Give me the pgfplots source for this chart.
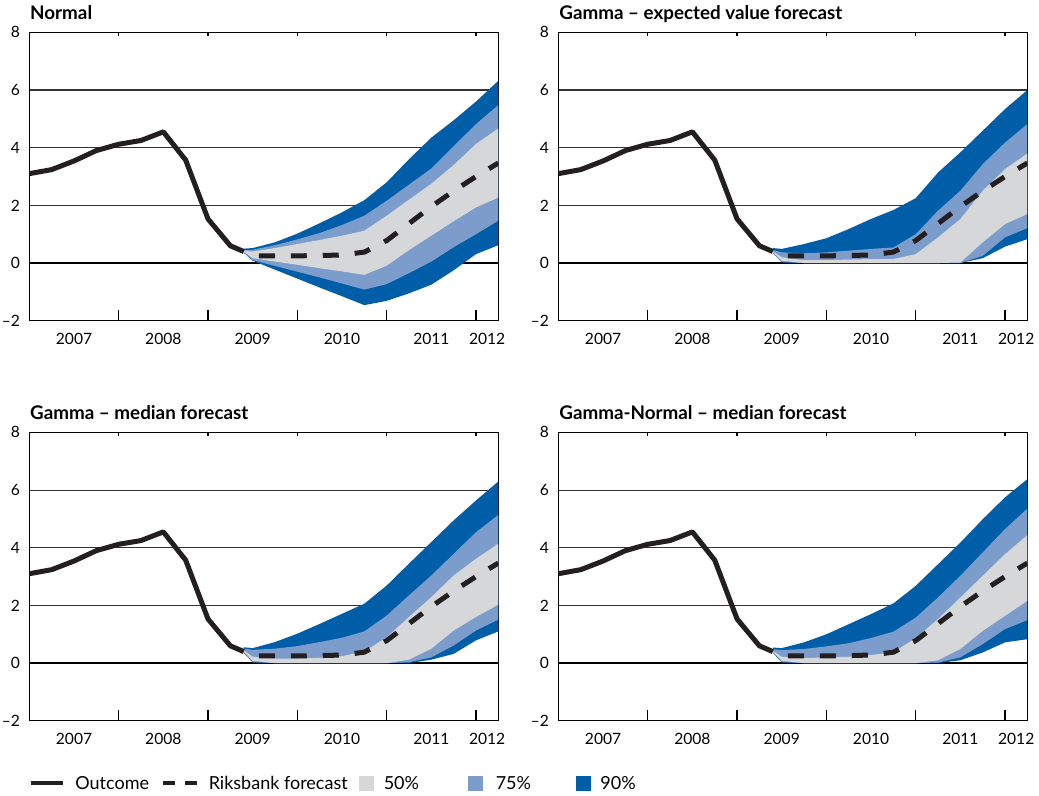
\documentclass[border=0pt]{standalone}
\usepackage{fontspec}
\setmainfont{Lato}
\usepackage{pgfplots}
\pgfplotsset{compat=1.18}
\usepackage{pgfplotstable}
\usepgfplotslibrary{fillbetween}

\definecolor{rbdark}{RGB}{0,94,168}
\definecolor{rblight}{RGB}{124,157,204}
\definecolor{rbgrey}{RGB}{214,215,217}
\definecolor{rbblack}{RGB}{35,31,32}

% Repo rate outcome
\pgfplotstableread{
x y
2007.00 3.10
2007.25 3.24
2007.50 3.54
2007.75 3.90
2008.00 4.12
2008.25 4.25
2008.50 4.55
2008.75 3.57
2009.00 1.53
2009.25 0.60
2009.40 0.40
}\outcome

% Riksbank forecast
\pgfplotstableread{
x y
2009.40 0.40
2009.50 0.25
2009.75 0.25
2010.00 0.25
2010.25 0.26
2010.50 0.28
2010.75 0.38
2011.00 0.78
2011.25 1.37
2011.50 1.96
2011.75 2.50
2012.00 3.00
2012.25 3.47
}\forecast

% Uncertainty bands: Normal
\pgfplotstableread{
x l90 l75 l50 u50 u75 u90
2009.40 0.36 0.38 0.39 0.42 0.45 0.50
2009.50 0.08 0.10 0.17 0.40 0.46 0.52
2009.75 -0.23 -0.10 0.05 0.52 0.62 0.72
2010.00 -0.54 -0.30 -0.06 0.66 0.82 1.02
2010.25 -0.85 -0.50 -0.18 0.80 1.04 1.38
2010.50 -1.15 -0.71 -0.29 0.95 1.32 1.76
2010.75 -1.46 -0.92 -0.41 1.12 1.64 2.18
2011.00 -1.31 -0.73 -0.09 1.64 2.16 2.80
2011.25 -1.05 -0.35 0.45 2.20 2.72 3.60
2011.50 -0.75 0.05 0.95 2.75 3.28 4.35
2011.75 -0.25 0.55 1.45 3.40 4.05 4.95
2012.00 0.31 1.00 1.93 4.13 4.82 5.60
2012.25 0.62 1.47 2.27 4.67 5.48 6.32
}\bandNormal

% Uncertainty bands: Gamma, expected value
\pgfplotstableread{
x l90 l75 l50 u50 u75 u90
2009.40 0.36 0.36 0.38 0.40 0.45 0.52
2009.50 0.02 0.04 0.08 0.20 0.37 0.49
2009.75 0.00 0.00 0.00 0.10 0.34 0.66
2010.00 0.00 0.00 0.00 0.10 0.37 0.86
2010.25 0.00 0.00 0.00 0.12 0.43 1.18
2010.50 0.00 0.00 0.00 0.14 0.49 1.53
2010.75 0.00 0.00 0.00 0.14 0.54 1.84
2011.00 0.00 0.00 0.00 0.31 1.00 2.25
2011.25 0.00 0.00 0.00 0.89 1.82 3.14
2011.50 0.00 0.00 0.02 1.53 2.51 3.84
2011.75 0.17 0.25 0.72 2.51 3.43 4.59
2012.00 0.57 0.89 1.35 3.26 4.18 5.34
2012.25 0.83 1.21 1.70 3.80 4.82 6.00
}\bandGammaEV

% Uncertainty bands: Gamma, median
\pgfplotstableread{
x l90 l75 l50 u50 u75 u90
2009.40 0.36 0.38 0.40 0.44 0.50 0.55
2009.50 0.02 0.04 0.08 0.22 0.46 0.52
2009.75 0.00 0.00 0.00 0.16 0.50 0.73
2010.00 0.00 0.00 0.00 0.16 0.59 1.02
2010.25 0.00 0.00 0.00 0.18 0.73 1.36
2010.50 0.00 0.00 0.00 0.24 0.88 1.71
2010.75 0.00 0.00 0.00 0.40 1.10 2.06
2011.00 0.00 0.00 0.00 0.90 1.65 2.69
2011.25 0.00 0.03 0.12 1.60 2.35 3.45
2011.50 0.12 0.20 0.50 2.29 3.04 4.20
2011.75 0.32 0.61 1.13 3.04 3.79 4.95
2012.00 0.79 1.13 1.60 3.62 4.54 5.64
2012.25 1.10 1.51 2.03 4.14 5.14 6.30
}\bandGammaMed

% Uncertainty bands: Gamma-Normal, median
\pgfplotstableread{
x l90 l75 l50 u50 u75 u90
2009.40 0.36 0.38 0.40 0.42 0.48 0.54
2009.50 0.02 0.04 0.08 0.22 0.45 0.52
2009.75 0.00 0.00 0.00 0.17 0.49 0.72
2010.00 0.00 0.00 0.00 0.20 0.58 1.00
2010.25 0.00 0.00 0.00 0.22 0.69 1.35
2010.50 0.00 0.00 0.00 0.28 0.87 1.70
2010.75 0.00 0.00 0.00 0.38 1.09 2.07
2011.00 0.00 0.00 0.00 0.87 1.58 2.68
2011.25 0.00 0.02 0.10 1.53 2.28 3.43
2011.50 0.10 0.20 0.49 2.28 3.03 4.18
2011.75 0.37 0.66 1.12 3.03 3.84 4.99
2012.00 0.72 1.18 1.64 3.78 4.65 5.75
2012.25 0.83 1.49 2.16 4.44 5.36 6.38
}\bandGammaNormal

\newcommand{\ticksize}{\fontsize{7.8}{9}\selectfont}
\newcommand{\legsize}{\fontsize{9}{11}\selectfont}
\newcommand{\titlesize}{\fontsize{9.4}{11}\selectfont\bfseries}

\pgfplotsset{
  fanpanel/.style={
    scale only axis, width=234.5pt, height=144.2pt,
    anchor=north west,
    xmin=2007, xmax=2012.25, ymin=-2, ymax=8,
    axis line style={line width=0.6pt, black},
    ytick={-2,0,2,4,6,8}, yticklabels={--2,0,2,4,6,8},
    ytick style={draw=none},
    yticklabel style={font=\ticksize, inner sep=0pt, xshift=-4.5pt},
    ymajorgrids, grid style={line width=0.55pt, black!80},
    extra y ticks={0}, extra y tick labels={},
    extra y tick style={major tick length=0pt, grid style={line width=1.1pt, black}},
    xtick={2008,2009,2010,2011,2012}, xticklabels={},
    xtick pos=left, xtick align=inside, major tick length=5.5pt,
    xtick style={line width=0.6pt, black},
    extra x ticks={2007.5,2008.5,2009.5,2010.5,2011.5,2012.125},
    extra x tick labels={2007,2008,2009,2010,2011,2012},
    extra x tick style={major tick length=0pt,
      xticklabel style={font=\ticksize, inner sep=0pt, anchor=north, yshift=-5.8pt}},
  },
  outcomeline/.style={rbblack, line width=2.5pt, line join=round},
  forecastline/.style={rbblack, line width=2.5pt, dash pattern=on 8pt off 8pt, dash phase=8pt},
}

\newcommand{\fanplots}[1]{%
  \addplot[draw=none, name path=u90] table[x=x, y=u90] {#1};
  \addplot[draw=none, name path=l90] table[x=x, y=l90] {#1};
  \addplot[draw=none, name path=u75] table[x=x, y=u75] {#1};
  \addplot[draw=none, name path=l75] table[x=x, y=l75] {#1};
  \addplot[draw=none, name path=u50] table[x=x, y=u50] {#1};
  \addplot[draw=none, name path=l50] table[x=x, y=l50] {#1};
  \addplot[fill=rbdark, draw=none] fill between[of=u90 and l90];
  \addplot[fill=rblight, draw=none] fill between[of=u75 and l75];
  \addplot[fill=rbgrey, draw=none] fill between[of=u50 and l50];
  \addplot[outcomeline] table[x=x, y=y] {\outcome};
  \addplot[forecastline] table[x=x, y=y] {\forecast};
  \pgfplotsinvokeforeach{2008,2009,2010,2011,2012}{%
    \draw[line width=0.6pt, black] (axis cs:##1,8) -- ++(0pt,-1.8pt);}
  \draw[line width=0.6pt, black] (rel axis cs:1,0) -- (rel axis cs:1,1);
}

\begin{document}
\begin{tikzpicture}

\begin{axis}[fanpanel, at={(14.67pt,-16.17pt)}]
  \fanplots{\bandNormal}
\end{axis}

\begin{axis}[fanpanel, at={(279.2pt,-16.17pt)}]
  \fanplots{\bandGammaEV}
\end{axis}

\begin{axis}[fanpanel, at={(14.67pt,-216.2pt)}]
  \fanplots{\bandGammaMed}
\end{axis}

\begin{axis}[fanpanel, at={(279.2pt,-216.2pt)}]
  \fanplots{\bandGammaNormal}
\end{axis}

% Panel titles
\begin{scope}[every node/.style={anchor=base west, inner sep=0pt, font=\titlesize}]
  \node at (14.9pt,-10pt) {Normal};
  \node at (279.5pt,-10pt) {Gamma -- expected value forecast};
  \node at (14.9pt,-209.6pt) {Gamma -- median forecast};
  \node at (279.5pt,-209.6pt) {Gamma-Normal -- median forecast};
\end{scope}

% Legend
\begin{scope}[every node/.style={anchor=base west, inner sep=0pt, font=\legsize}]
  \draw[rbblack, line width=2pt] (15.35pt,-391.65pt) -- (31.65pt,-391.65pt);
  \node at (37.5pt,-394.6pt) {Outcome};
  \draw[rbblack, line width=2pt] (81.65pt,-391.65pt) -- (87.5pt,-391.65pt);
  \draw[rbblack, line width=2pt] (92.5pt,-391.65pt) -- (98.35pt,-391.65pt);
  \node at (104.2pt,-394.6pt) {Riksbank forecast};
  \fill[rbgrey] (179.7pt,-388pt) rectangle (187pt,-395.5pt);
  \node at (191.7pt,-394.6pt) {50\%};
  \fill[rblight] (234.2pt,-388pt) rectangle (241.5pt,-395.5pt);
  \node at (247.7pt,-394.6pt) {75\%};
  \fill[rbdark] (288pt,-388pt) rectangle (295.3pt,-395.5pt);
  \node at (300pt,-394.6pt) {90\%};
\end{scope}

\pgfresetboundingbox
\useasboundingbox (0pt,0pt) rectangle (519.5pt,-398pt);
\end{tikzpicture}
\end{document}
